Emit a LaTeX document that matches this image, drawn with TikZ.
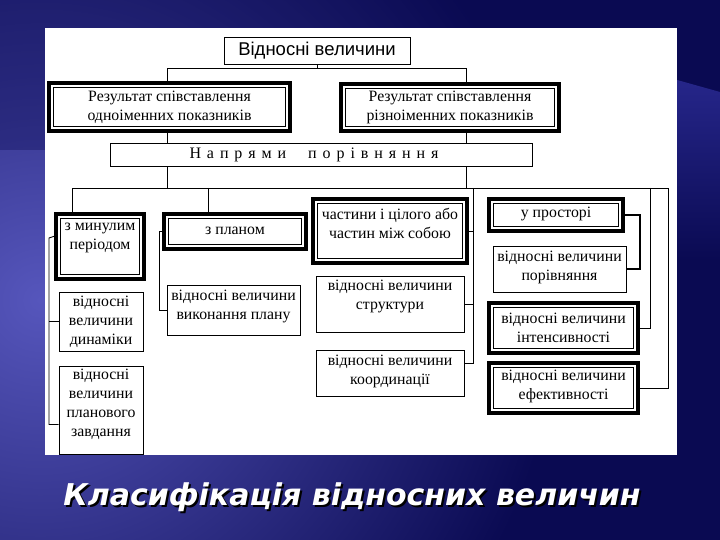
\documentclass[tikz,border=0pt]{standalone}
\usepackage{fontspec}
\setmainfont{Liberation Serif}
\newfontfamily\headfont{Liberation Sans}
\newfontfamily\spacedfont[LetterSpace=12]{Liberation Serif}
\newfontfamily\titlefont{DejaVu Sans}

\definecolor{bgdark}{HTML}{0A0A52}
\definecolor{bgmid}{HTML}{26268A}
\definecolor{bglight}{HTML}{5656BC}

% box content: width, height, text, lift
\newcommand{\cell}[4]{\parbox[c][#2pt][c]{#1pt}{\centering #3\par\vspace*{#4pt}}}

\tikzset{
  thinbox/.style={draw, line width=0.8pt, inner sep=0pt},
  dblbox/.style={draw, line width=3.5pt, inner sep=0pt,
    path picture={\draw[line width=1.2pt]
      ([shift={(4.5pt,-4.5pt)}]path picture bounding box.north west) rectangle
      ([shift={(-4.5pt,4.5pt)}]path picture bounding box.south east);}},
  link/.style={line width=0.8pt},
  bracket/.style={line width=2.4pt},
  title/.style={inner sep=0pt, font=\titlefont\bfseries\itshape\fontsize{30}{34}\selectfont}
}

\begin{document}
\begin{tikzpicture}[x=1pt, y=-1pt, font=\fontsize{15.8}{19}\selectfont]

  % Sfondo e pannello bianco
  \useasboundingbox (0,0) rectangle (720,540);
  \fill[bgdark] (0,0) rectangle (720,540);
  \begin{scope}
    \clip (0,0) rectangle (720,540);
    \shade[inner color=bglight, outer color=bgdark] (40,300) circle (520);
    \fill[bgdark, opacity=0.35] (0,0) rectangle (720,150);
    \shade[top color=bgmid, bottom color=bgdark] (670,78) -- (720,92) -- (720,260) -- (670,260) -- cycle;
  \end{scope}
  \fill[white] (45,28) rectangle (677,455);

  % Livelli superiori
  \node[thinbox] (top) at (317,50.5) {\cell{186}{27}{\headfont\fontsize{18.5}{21}\selectfont Відносні величини}{0}};
  \node[dblbox] (res1) at (169.5,107) {\cell{241}{48}{Результат співставлення\\одноіменних показників}{0}};
  \node[dblbox] (res2) at (450,107.5) {\cell{218}{47}{Результат співставлення\\різноіменних показників}{0}};
  \node[thinbox] (dir) at (321,154.5) {\cell{422}{23}{\spacedfont\fontsize{16}{19}\selectfont Н а п р я м и \quad п о р і в н я н н я\hspace*{14pt}}{0}};

  % Colonna 1
  \node[dblbox] (past) at (100,246.5) {\cell{88}{65}{з минулим\\періодом}{17}};
  \node[thinbox] (dyn) at (101,321.5) {\cell{84}{59}{відносні\\величини\\динаміки}{0}};
  \node[thinbox] (plantask) at (101,410) {\cell{84}{88}{відносні\\величини\\планового\\завдання}{11}};

  % Colonna 2
  \node[dblbox] (plan) at (235,231.5) {\cell{142}{35}{з планом}{2}};
  \node[thinbox] (exec) at (233.5,310) {\cell{133}{50}{відносні величини\\виконання плану}{8}};

  % Colonna 3
  \node[dblbox] (part) at (390,231) {\cell{154}{64}{частини і цілого або\\частин між собою}{16}};
  \node[thinbox] (struct) at (390,304) {\cell{148}{56}{відносні величини\\структури}{16}};
  \node[thinbox] (coord) at (390,373) {\cell{148}{46}{відносні величини\\координації}{4}};

  % Colonna 4
  \node[dblbox] (space) at (556,215) {\cell{134}{32}{у просторі}{2}};
  \node[thinbox] (comp) at (559.5,269) {\cell{133}{46}{відносні величини\\порівняння}{3}};
  \node[dblbox] (intens) at (563.5,328) {\cell{149}{50}{відносні величини\\інтенсивності}{1}};
  \node[dblbox] (effic) at (563.5,388) {\cell{149}{50}{відносні величини\\ефективності}{3}};

  % Punti di snodo
  \coordinate (j1) at (167,68);
  \coordinate (j2) at (466,68);
  \coordinate (busL) at (72,188);
  \coordinate (busR) at (668,188);
  \coordinate (d2) at (208,188);
  \coordinate (b3) at (473,188);
  \coordinate (b4) at (650,188);
  \coordinate (lbar) at (49,238);
  \coordinate (b2) at (159,233);
  \coordinate (rb) at (640,217);

  % Collegamenti in alto
  \draw[link] (top.south) -- (top.south |- j1);
  \draw[link] (res1.north -| j1) -- (j1) -- (j2) -- (res2.north -| j2);
  \draw[link] (res1.south -| j1) -- (dir.north -| j1);
  \draw[link] (res2.south -| j2) -- (dir.north -| j2);
  \draw[link] (dir.south -| j1) -- (busL -| j1);
  \draw[link] (dir.south -| j2) -- (busL -| j2);
  \draw[link] (past.north -| busL) -- (busL) -- (busR) |- (effic.east);

  % Collegamenti colonne
  \draw[link] ([yshift=-24pt]past.north west) -- (lbar) |- ([yshift=30pt]plantask.south west);
  \draw[link] (dyn.west) -- (dyn.west -| lbar);
  \draw[link] (d2) -- (plan.north -| d2);
  \draw[link] (plan.west) -- (plan.west -| b2) |- (exec.west);
  \draw[link] (b3) |- ([yshift=-14pt]coord.north east);
  \draw[link] (part.east) -- (part.east -| b3);
  \draw[link] (struct.east) -- (struct.east -| b3);
  \draw[link] (b4) |- (intens.east);
  \draw[bracket] (space.east) -- (space.east -| rb) |- (comp.east);

  % Titolo
  \node[title, text=black] (ttlshadow) at (354,499) {Класифікація відносних величин};
  \node[title, text=white] (ttl) at (352,497) {Класифікація відносних величин};

\end{tikzpicture}
\end{document}
